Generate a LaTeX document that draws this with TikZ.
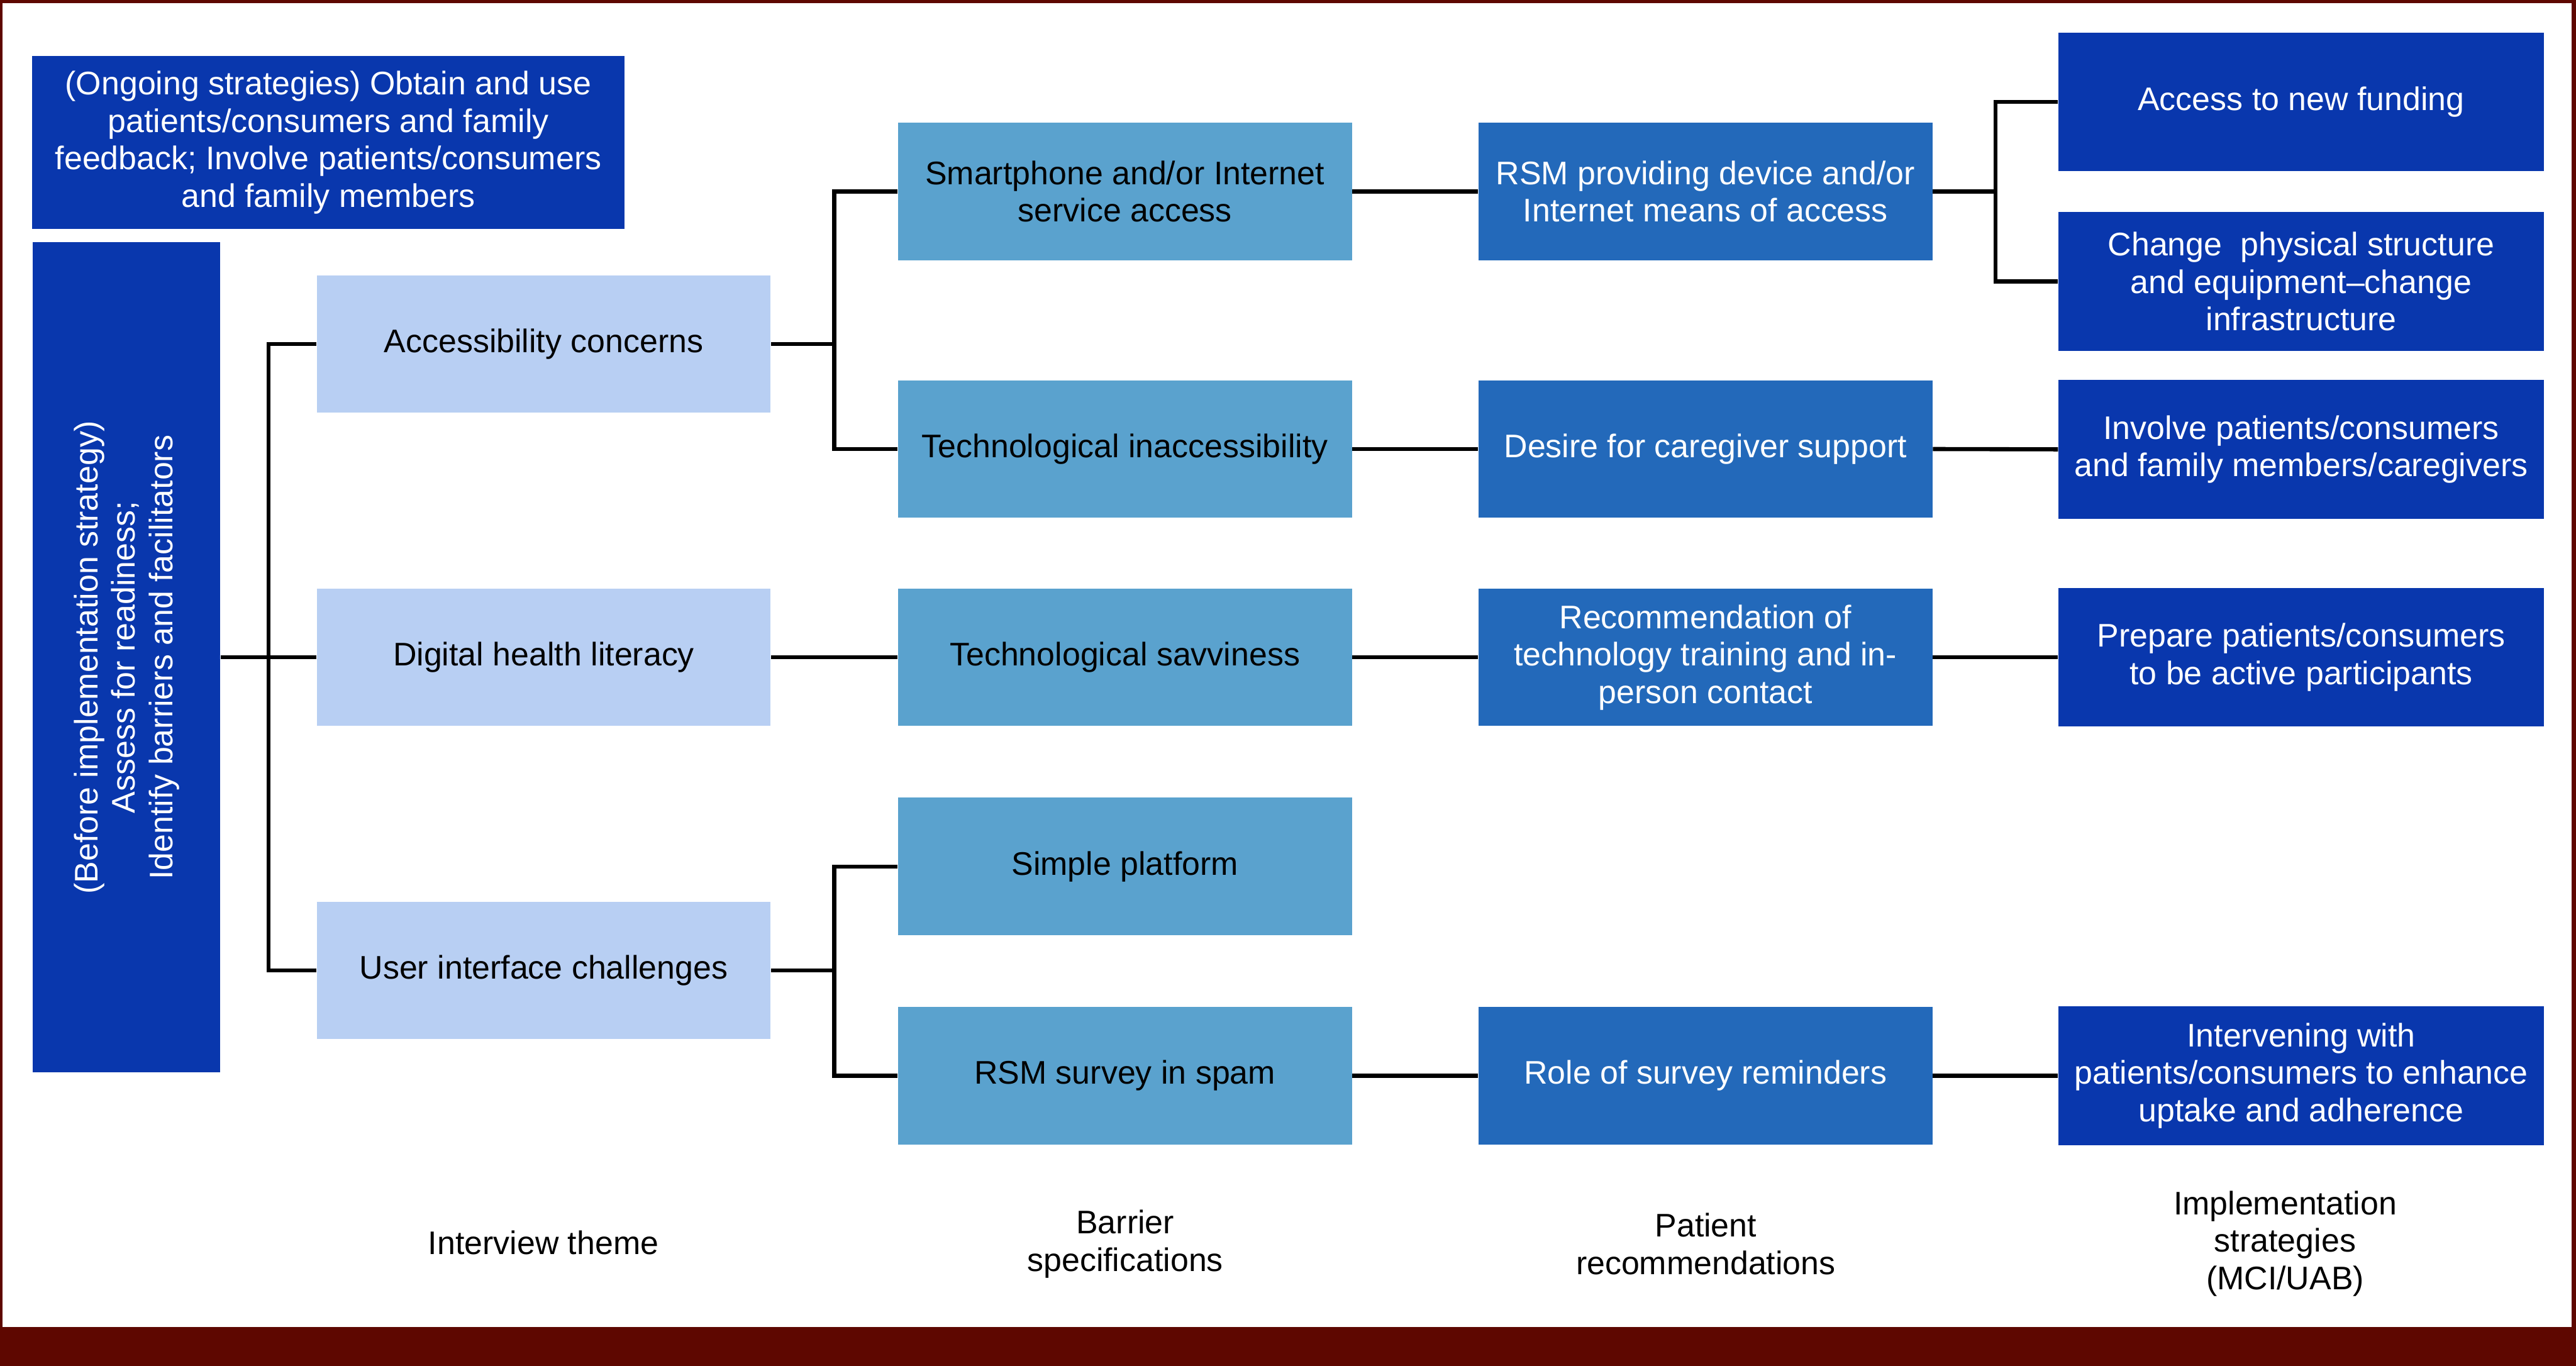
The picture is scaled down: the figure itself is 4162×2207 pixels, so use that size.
\documentclass[tikz,border=0pt]{standalone}
\usepackage{fontspec}
\setmainfont{Liberation Sans}
\definecolor{cLight}{HTML}{B8CFF3}
\definecolor{cMid}{HTML}{5AA2CE}
\definecolor{cThree}{HTML}{2369BA}
\definecolor{cFour}{HTML}{0937AD}
\definecolor{cFrame}{HTML}{5E0700}
\tikzset{
  bx/.style={draw=none, inner sep=0pt, align=center, font=\fontsize{15}{17.2}\selectfont},
  colA/.style={bx, fill=cLight, text=black, minimum width=7.33cm, minimum height=2.22cm},
  colB/.style={bx, fill=cMid, text=black, minimum width=7.33cm, minimum height=2.22cm},
  colC/.style={bx, fill=cThree, text=white, minimum width=7.33cm, minimum height=2.22cm},
  colD/.style={bx, fill=cFour, text=white, minimum width=7.84cm, minimum height=2.24cm},
  lbl/.style={bx, text=black},
  conn/.style={line width=1.9pt, black},
}
\begin{document}
\begin{tikzpicture}[x=0.01cm, y=-0.01cm]
% canvas and frame
\fill[white] (0,0) rectangle (4162,2207);
\fill[cFrame] (0,0) rectangle (4162,5);
\fill[cFrame] (0,0) rectangle (4,2207);
\fill[cFrame] (4155,0) rectangle (4162,2207);
\fill[cFrame] (0,2144) rectangle (4162,2207);
\useasboundingbox (0,0) rectangle (4162,2207);

% top-left box
\node[bx, fill=cFour, text=white, minimum width=9.57cm, minimum height=2.79cm] (ongoing) at (530.5,230)
  {(Ongoing strategies) Obtain and use\\patients/consumers and family\\feedback; Involve patients/consumers\\and family members};

% left rotated box
\node[bx, fill=cFour, minimum width=3.03cm, minimum height=13.41cm] (before) at (204.5,1062) {};
\node[bx, text=white, rotate=90] (beforetext) at (before.center)
  {(Before implementation strategy)\\Assess for readiness;\\Identify barriers and facilitators};

% column 1
\node[colA] (acc) at (878.5,556) {Accessibility concerns};
\node[colA] (dig) at (878.5,1062) {Digital health literacy};
\node[colA] (user) at (878.5,1568) {User interface challenges};

% column 2
\node[colB] (smart) at (1817.5,309.5) {Smartphone and/or Internet\\service access};
\node[colB] (tinacc) at (1817.5,725.5) {Technological inaccessibility};
\node[colB] (savvy) at (1817.5,1062) {Technological savviness};
\node[colB] (simple) at (1817.5,1400) {Simple platform};
\node[colB] (survey) at (1817.5,1738) {RSM survey in spam};

% column 3
\node[colC] (rsmprov) at (2755.5,309.5) {RSM providing device and/or\\Internet means of access};
\node[colC] (desire) at (2755.5,725.5) {Desire for caregiver support};
\node[colC] (recomm) at (2755.5,1062) {Recommendation of\\technology training and in-\\person contact};
\node[colC] (role) at (2755.5,1738) {Role of survey reminders};

% column 4
\node[colD] (fund) at (3718,164.5) {Access to new funding};
\node[colD] (change) at (3718,455) {Change\ \ physical structure\\and equipment–change\\infrastructure};
\node[colD] (involve) at (3718,726) {Involve patients/consumers\\and family members/caregivers};
\node[colD] (prepare) at (3718,1062) {Prepare patients/consumers\\to be active participants};
\node[colD] (interv) at (3718,1738) {Intervening with\\patients/consumers to enhance\\uptake and adherence};

% column labels
\node[lbl] (lab1) at (878,2008) {Interview theme};
\node[lbl] (lab2) at (1818,2010) {Barrier\\specifications};
\node[lbl] (lab3) at (2756,2010) {Patient\\recommendations};
\node[lbl] (lab4) at (3692,2009) {Implementation\\strategies\\(MCI/UAB)};

% junction coordinates
\coordinate (j1) at (434,1062);
\coordinate (j2) at (1348,556);
\coordinate (j3) at (1348,1568);
\coordinate (j4) at (3224,309.5);

% connectors
\draw[conn] (before.east) -- (dig.west);
\draw[conn] (acc.west) -| (j1) |- (user.west);
\draw[conn] (acc.east) -- (j2);
\draw[conn] (smart.west) -| (j2) |- (tinacc.west);
\draw[conn] (dig.east) -- (savvy.west);
\draw[conn] (user.east) -- (j3);
\draw[conn] (simple.west) -| (j3) |- (survey.west);
\draw[conn] (smart.east) -- (rsmprov.west);
\draw[conn] (tinacc.east) -- (desire.west);
\draw[conn] (savvy.east) -- (recomm.west);
\draw[conn] (survey.east) -- (role.west);
\draw[conn] (rsmprov.east) -- (j4);
\draw[conn] (fund.west) -| (j4) |- (change.west);
\draw[conn] (desire.east) -- (involve.west);
\draw[conn] (recomm.east) -- (prepare.west);
\draw[conn] (role.east) -- (interv.west);
\end{tikzpicture}
\end{document}
